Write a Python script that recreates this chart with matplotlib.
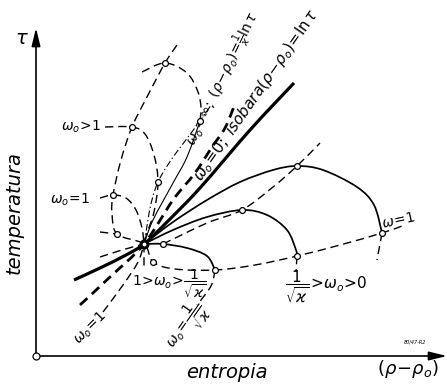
import numpy as np
import matplotlib
matplotlib.use('Agg')
import matplotlib.pyplot as plt
from matplotlib.path import Path
from matplotlib.patches import PathPatch

plt.rcParams['mathtext.fontset'] = 'dejavusans'

# points (entropy, temperature) in drawing units, origin at the axis corner
centre = (108, 112)

isobar = [(38, 76), (64, 88), (90, 101), (108, 112), (130, 133), (164, 168), (214, 226), (258, 273)]
omega_inf = [(44, 51), (74, 79), (108, 112), (137, 156), (159, 183), (176, 209), (189, 228), (199, 252)]

# trajectories for 1/sqrt(k) >= w0 > 0
traj_1 = [(108, 112), (127, 112), (151, 108), (171, 100), (179, 86)]
traj_1_tail = [(179, 86), (175, 70), (161, 51)]
traj_2 = [(108, 112), (137, 126), (171, 139), (206, 146), (231, 141), (251, 126), (260, 106), (261, 100)]
traj_2_tail = [(261, 100), (260, 84)]
traj_3 = [(108, 112), (137, 134), (171, 156), (204, 174), (237, 186), (261, 190), (287, 186),
          (321, 169), (338, 151), (346, 123)]
traj_3_tail = [(346, 123), (341, 96)]

# loci through the turning points
peak_locus = [(127, 112), (171, 133), (206, 146), (237, 169), (261, 190), (284, 213)]
omega_one = [(141, 311), (129, 293), (112, 261), (96, 229), (85, 196), (77, 161), (76, 143),
             (81, 122), (108, 112), (117, 94), (139, 87), (179, 86), (219, 91), (261, 100),
             (304, 111), (346, 123), (366, 130)]

# loops for w0 >= 1
loop_big = [(106, 284), (129, 293), (151, 283), (162, 264), (165, 248), (164, 235)]
loop_big_back = [(108, 112), (122, 174), (164, 235), (176, 252)]
loop_big_solid = [(108, 112), (117, 136), (137, 173), (151, 199), (164, 235)]
loop_mid = [(69, 229), (96, 229), (109, 222), (118, 201), (122, 174), (118, 144), (111, 123), (108, 112)]
loop_small = [(64, 158), (77, 161), (90, 158), (100, 146), (106, 128), (108, 112)]

# short dashed branches through the centre
stub_left_a = [(64, 124), (81, 122)]
stub_left_b = [(64, 99), (86, 106), (108, 112)]
stub_down = [(108, 112), (108, 86)]
omega_one_low = [(67, 44), (87, 71), (102, 94), (108, 112)]

nodes = [(129, 293), (96, 229), (164, 235), (122, 174), (77, 161), (81, 122), (117, 94),
         (127, 112), (179, 86), (206, 146), (261, 100), (261, 190), (346, 123)]


def smooth(pts):
    p = np.asarray(pts, float)
    ext = np.vstack([p[0], p, p[-1]])
    verts = [p[0]]
    for i in range(1, len(ext) - 2):
        p0, p1, p2, p3 = ext[i - 1], ext[i], ext[i + 1], ext[i + 2]
        verts += [p1 + (p2 - p0) / 6, p2 - (p3 - p1) / 6, p2]
    codes = [Path.MOVETO] + [Path.CURVE4] * (len(verts) - 1)
    return Path(verts, codes)


fig = plt.figure(figsize=(4.47, 3.85), dpi=100)
ax = fig.add_axes([0, 0, 1, 1])
ax.set_xlim(-36, 411)
ax.set_ylim(-29, 356)
ax.set_aspect('equal')
ax.axis('off')


def curve(pts, lw=1.0, ls='-'):
    ax.add_patch(PathPatch(smooth(pts), fill=False, lw=lw, ls=ls, ec='k',
                           capstyle='butt', joinstyle='round'))


dash = (0, (6, 3.5))
thick_dash = (0, (3.6, 2.2))
dash_dot = (0, (6, 2.5, 1.2, 2.5))

curve(isobar, lw=2.3)
curve(omega_inf, lw=2.0, ls=thick_dash)
for t in (traj_1, traj_2, traj_3):
    curve(t, lw=1.25)
for t in (traj_1_tail, traj_2_tail, traj_3_tail):
    curve(t, lw=1.0, ls=dash)
curve(peak_locus, lw=1.0, ls=dash)
curve(omega_one, lw=1.0, ls=dash)
curve(loop_big, lw=1.0, ls=dash)
curve(loop_big_back, lw=0.8, ls=dash_dot)
curve(loop_big_solid, lw=0.8)
curve(loop_mid, lw=1.0, ls=dash)
curve(loop_small, lw=1.0, ls=dash)
for s in (stub_left_a, stub_left_b, stub_down, omega_one_low):
    curve(s, lw=1.0, ls=dash)

xs, ys = zip(*nodes)
ax.plot(xs, ys, 'o', ms=4.2, mfc='white', mec='k', mew=0.9, zorder=5)
ax.plot(*centre, 'o', ms=5, mfc='white', mec='k', mew=2.2, zorder=6)

# axes with arrows
arrow = dict(arrowstyle='-|>,head_length=0.9,head_width=0.22', lw=1.2, color='k',
             shrinkA=0, shrinkB=0, mutation_scale=12)
ax.annotate('', xy=(0, 328), xytext=(0, 0), arrowprops=arrow)
ax.annotate('', xy=(411, 0), xytext=(0, 0), arrowprops=arrow)
ax.plot(0, 0, 'o', ms=5, mfc='white', mec='k', mew=0.9, zorder=5)

lab = dict(fontsize=10, color='k')
ax.text(45, 229, r'$\omega_o\!>\!1$', ha='center', va='center', **lab)
ax.text(34, 156, r'$\omega_o\!=\!1$', ha='center', va='center', **lab)
ax.text(54, 28, r'$\omega_o\!=\!1$', ha='center', va='center', rotation=45, **lab)
ax.text(133, 72, r'$1\!>\!\omega_o\!>\!\dfrac{1}{\sqrt{\varkappa}}$', ha='center', va='center', **lab)
ax.text(151, 30, r'$\omega_o\!=\!\dfrac{1}{\sqrt{\varkappa}}$', ha='center', va='center', rotation=55, **lab)
ax.text(290, 69, r'$\dfrac{1}{\sqrt{\varkappa}}\!>\!\omega_o\!>\!0$', ha='center', va='center', fontsize=11)
ax.text(362, 135, r'$\omega\!=\!1$', ha='center', va='center', rotation=12, **lab)
ax.text(165, 206, r'$\omega_o\!=\!\infty;\ (\rho\!-\!\rho_o)\!=\!\frac{1}{\varkappa}\ln\tau$',
        ha='left', va='bottom', rotation=64, rotation_mode='anchor', fontsize=10)
ax.text(169, 171, r'$\omega_o\!=\!0;\ \mathit{isobara}(\rho\!-\!\rho_o)\!=\!\ln\tau$',
        ha='left', va='bottom', rotation=55, rotation_mode='anchor', fontsize=11)

ax.text(-14, 318, r'$\tau$', ha='center', va='center', fontsize=14)
ax.text(-22, 144, 'temperatura', ha='center', va='center', rotation=90, fontsize=14, style='italic')
ax.text(191, -16, 'entropia', ha='center', va='center', fontsize=14, style='italic')
ax.text(372, -13, r'$(\rho\!-\!\rho_o)$', ha='center', va='center', fontsize=13)
ax.text(379, 14, '80/47-R2', ha='center', va='center', fontsize=3.5, style='italic')

fig.savefig('out.png', dpi=100)
